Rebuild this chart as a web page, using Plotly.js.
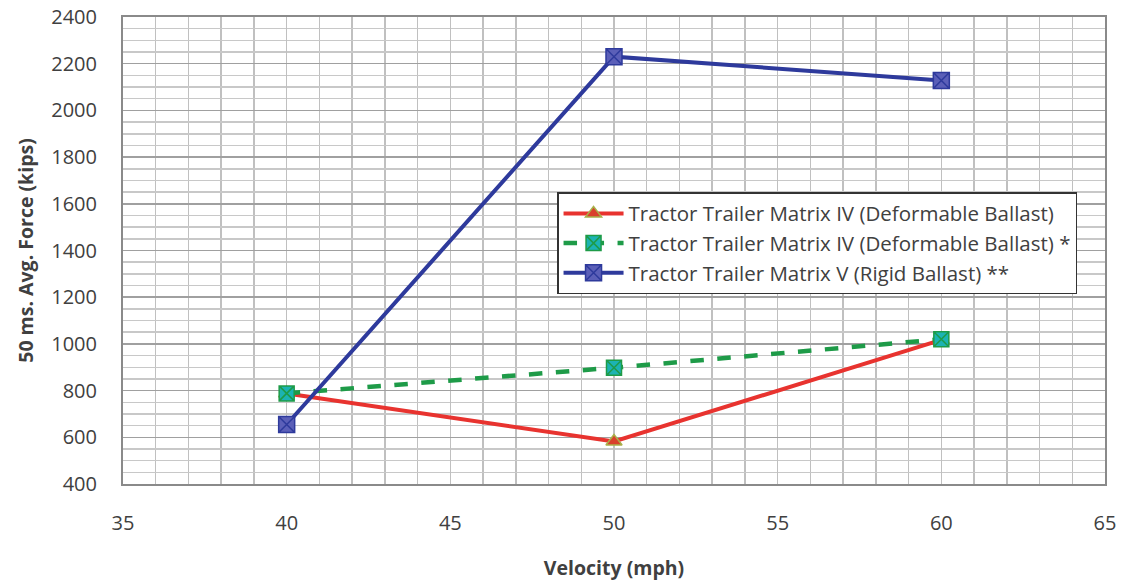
<!DOCTYPE html>
<html><head><meta charset="utf-8">
<script src="https://cdn.plot.ly/plotly-3.0.1.min.js"></script>
<style>html,body{margin:0;padding:0;background:#fff}#chart{width:1123px;height:587px}</style>
</head><body><div id="chart"></div>
<script>
const velocity = [40, 50, 60];
const matrixIVDeformable = [788, 582, 1017];
const matrixIVDeformableStar = [788, 898, 1020];
const matrixVRigid = [655, 2230, 2128];
const seriesNames = [
  "Tractor Trailer Matrix IV (Deformable Ballast)",
  "Tractor Trailer Matrix IV (Deformable Ballast) *",
  "Tractor Trailer Matrix V (Rigid Ballast) **"
];
const xTicks = [35, 40, 45, 50, 55, 60, 65];
const yTicks = [400, 600, 800, 1000, 1200, 1400, 1600, 1800, 2000, 2200, 2400];

const font = "Open Sans, Liberation Sans, sans-serif";
const traces = [
  {x: velocity, y: matrixIVDeformable, name: seriesNames[0], mode: "lines+markers",
   line: {color: "#e8332f", width: 4},
   marker: {symbol: "triangle-up", size: 14, color: "#d9402c", line: {color: "#a8b04a", width: 1.5}}},
  {x: velocity, y: matrixIVDeformableStar, name: seriesNames[1], mode: "lines+markers",
   line: {color: "#1e9b48", width: 4.5, dash: "dash"},
   marker: {symbol: "square-x", size: 15, color: "#1cb3b3", line: {color: "#1e9b48", width: 1.5}}},
  {x: velocity, y: matrixVRigid, name: seriesNames[2], mode: "lines+markers",
   line: {color: "#2e3a9c", width: 4},
   marker: {symbol: "square-x", size: 16, color: "#5b5fb8", line: {color: "#2e3a9c", width: 1.5}}}
];

const layout = {
  width: 1123, height: 587,
  margin: {l: 123, r: 18, t: 17, b: 103},
  paper_bgcolor: "#fff", plot_bgcolor: "#fff",
  font: {family: font, color: "#404040", size: 20},
  showlegend: true,
  legend: {x: 0.442, y: 0.625, xanchor: "left", yanchor: "top",
    bgcolor: "#fff", bordercolor: "#333", borderwidth: 1.5,
    font: {family: font, size: 20.5, color: "#404040"}, itemwidth: 60},
  xaxis: {
    range: [35, 65], tickvals: xTicks, ticktext: xTicks.map(String),
    showgrid: true, gridcolor: "#c0c0c0", gridwidth: 1.5,
    minor: {dtick: 1, tick0: 35, showgrid: true, gridcolor: "#c0c0c0", gridwidth: 1.5},
    showline: true, linecolor: "#8a8a8a", linewidth: 2, mirror: true,
    zeroline: false, ticks: "", ticklabelstandoff: 20,
    tickfont: {size: 20, color: "#404040"},
    title: {text: "<b>Velocity (mph)</b>", font: {size: 19.5, color: "#404040"}, standoff: 26}
  },
  yaxis: {
    range: [400, 2400], tickvals: yTicks, ticktext: yTicks.map(String),
    showgrid: true, gridcolor: "#a0a0a0", gridwidth: 1.5,
    minor: {dtick: 50, tick0: 400, showgrid: true, gridcolor: "#c8c8c8", gridwidth: 1.5},
    showline: true, linecolor: "#8a8a8a", linewidth: 2, mirror: true,
    zeroline: false, ticks: "", ticklabelstandoff: 20,
    tickfont: {size: 20, color: "#404040"},
    title: {text: "<b>50 ms. Avg. Force (kips)</b>", font: {size: 19.5, color: "#404040"}, standoff: 12}
  }
};
Plotly.newPlot("chart", traces, layout, {displayModeBar: false, staticPlot: true});
</script></body></html>
